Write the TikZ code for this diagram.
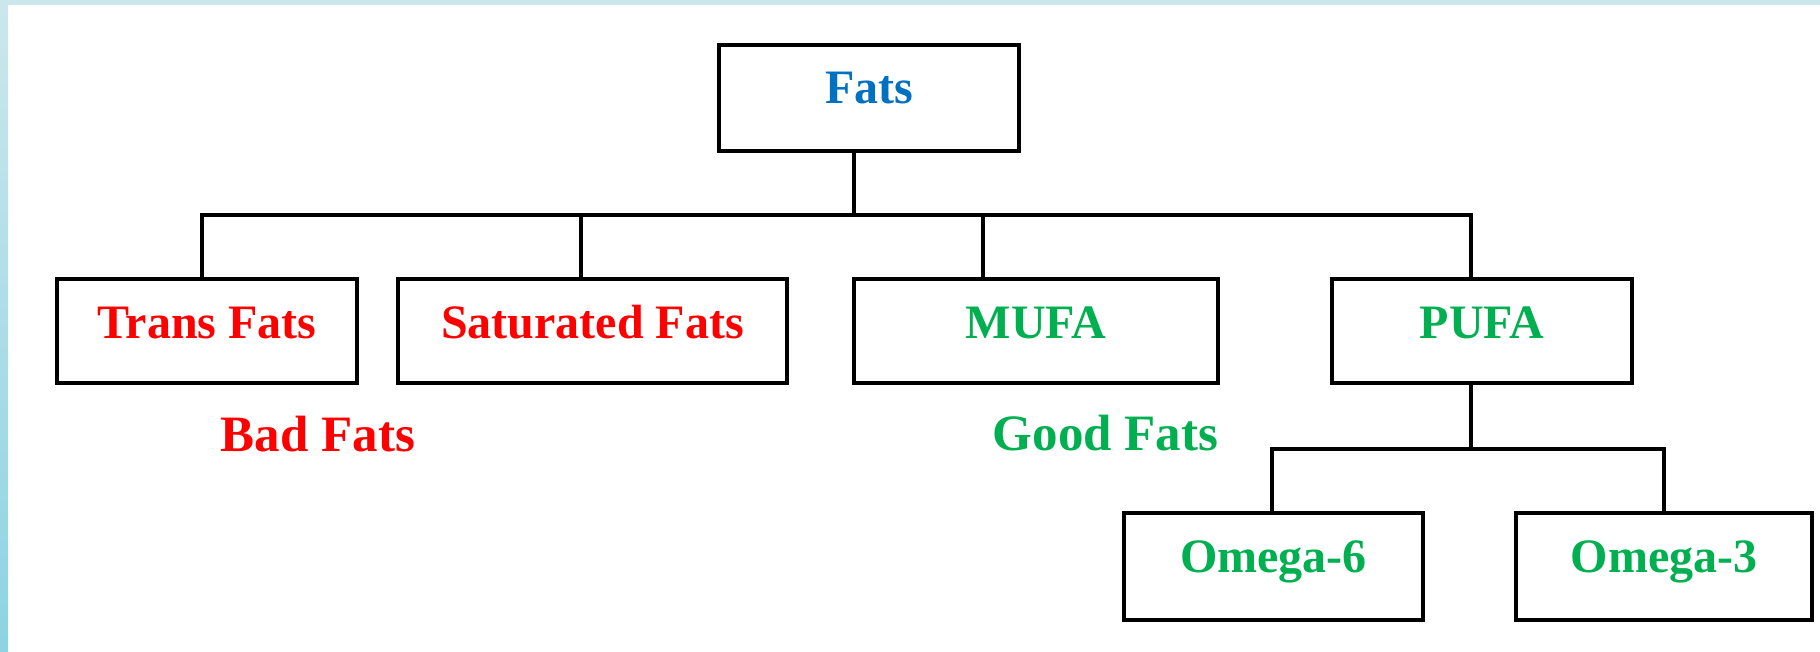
\documentclass[tikz,border=0pt]{standalone}
\usepackage{fontspec}
\setmainfont{Liberation Serif}
\definecolor{fred}{HTML}{FF0000}
\definecolor{fgreen}{HTML}{00B050}
\definecolor{fblue}{HTML}{0070C0}
\definecolor{bandlight}{HTML}{CCE7EC}
\definecolor{banddark}{HTML}{8DD3E3}
\begin{document}
\begin{tikzpicture}[x=0.5pt,y=-0.5pt,
  box/.style={draw, line width=1.9pt, inner sep=0pt, fill=white,
    font=\fontsize{24}{28}\selectfont\bfseries, text height=16pt, text depth=9pt},
  grp/.style={font=\fontsize{25.5}{30}\selectfont\bfseries, anchor=base},
  conn/.style={line width=1.9pt}]
\useasboundingbox (0,0) rectangle (1820,652);
\fill[white] (0,0) rectangle (1820,652);
\fill[bandlight] (0,0) rectangle (1820,5);
\shade[top color=bandlight, bottom color=banddark] (0,0) rectangle (8,652);
% boxes
\node[box, text=fblue, minimum width=150pt, minimum height=53pt, text depth=10pt] (fats) at (869,98) {Fats};
\node[box, text=fred, minimum width=150pt, minimum height=52pt] (trans) at (207,331) {Trans Fats};
\node[box, text=fred, minimum width=194.5pt, minimum height=52pt] (sat) at (592.5,331) {Saturated Fats};
\node[box, text=fgreen, minimum width=182pt, minimum height=52pt] (mufa) at (1036,331) {MUFA};
\node[box, text=fgreen, minimum width=150pt, minimum height=52pt] (pufa) at (1482,331) {PUFA};
\node[box, text=fgreen, minimum width=149.5pt, minimum height=53.5pt, text depth=10.5pt] (om6) at (1273.5,566.5) {Omega-6};
\node[box, text=fgreen, minimum width=148pt, minimum height=53.5pt, text depth=10.5pt] (om3) at (1664,566.5) {Omega-3};
% group labels
\node[grp, text=fred] (bad) at (318,451) {Bad Fats};
\node[grp, text=fgreen] (good) at (1105.5,450) {Good Fats};
% bus coordinates
\coordinate (b0) at (854,215);
\coordinate (bt) at (202,215);
\coordinate (bs) at (581,215);
\coordinate (bm) at (983,215);
\coordinate (bp) at (1471,215);
\coordinate (c0) at (1471,449);
\coordinate (c6) at (1272,449);
\coordinate (c3) at (1664,449);
% connectors
\draw[conn] (fats.south -| b0) -- (b0);
\draw[conn, line cap=rect] (bt) -- (bp);
\draw[conn] (bt) -- (trans.north -| bt);
\draw[conn] (bs) -- (sat.north -| bs);
\draw[conn] (bm) -- (mufa.north -| bm);
\draw[conn] (bp) -- (pufa.north -| bp);
\draw[conn] (pufa.south -| c0) -- (c0);
\draw[conn, line cap=rect] (c6) -- (c3);
\draw[conn] (c6) -- (om6.north -| c6);
\draw[conn] (c3) -- (om3.north -| c3);
\end{tikzpicture}
\end{document}
